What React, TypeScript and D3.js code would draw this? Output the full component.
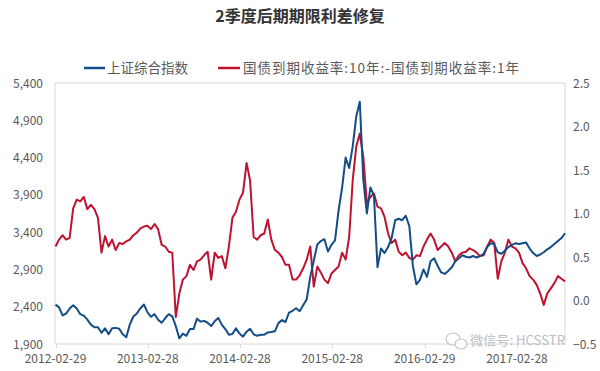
import React from "react";
import * as d3 from "d3";

const START_DATE = "2012-02-29";
const END_DATE = "2017-09-06";
const STEP_DAYS = 14;

const sseIndex = [
  2428, 2391, 2284, 2308, 2376, 2420, 2375, 2300, 2280, 2227, 2160, 2125, 2125, 2050, 2110, 2030,
  2110, 2116, 2105, 2030, 1990, 2160, 2269, 2310, 2380, 2430, 2325, 2265, 2300, 2225, 2185, 2245,
  2300, 2270, 2140, 1975, 2040, 2010, 2100, 2100, 2240, 2200, 2210, 2185, 2140, 2205, 2250, 2160,
  2100, 2025, 2035, 2110, 2040, 1998, 2065, 2105, 2030, 2010, 2025, 2025, 2055, 2060, 2070, 2180,
  2220, 2195, 2320, 2345, 2380, 2340, 2420, 2500, 2800, 3020, 3235, 3280, 3305, 3140, 3230, 3290,
  3690, 3995, 4400, 4260, 4550, 4950, 5150, 4100, 3650, 4000, 3890, 2930, 3180, 3120, 3200, 3320,
  3560, 3580, 3560, 3620, 3480, 2950, 2700, 2760, 2900, 2800, 3010, 3050, 2950, 2860, 2840, 2880,
  2930, 3010, 3050, 3090, 3070, 3060, 3080, 3060, 3080, 3110, 3200, 3250, 3240, 3130, 3110, 3150,
  3200, 3230, 3250, 3240, 3250, 3260, 3180, 3120, 3080, 3100, 3130, 3170, 3200, 3240, 3280, 3320,
  3385,
];

const termSpread = [
  0.62, 0.7, 0.75, 0.7, 0.72, 1.06, 1.16, 1.14, 1.19, 1.05, 1.1, 1.05, 0.95, 0.55, 0.74, 0.62,
  0.7, 0.58, 0.66, 0.65, 0.68, 0.7, 0.75, 0.78, 0.83, 0.85, 0.86, 0.82, 0.88, 0.82, 0.64, 0.62,
  0.56, 0.55, -0.19, 0.08, 0.24, 0.28, 0.41, 0.35, 0.45, 0.47, 0.52, 0.56, 0.24, 0.55, 0.49, 0.51,
  0.37, 0.62, 0.95, 1.02, 1.16, 1.24, 1.58, 1.38, 0.73, 0.7, 0.75, 0.77, 0.93, 0.7, 0.58, 0.55,
  0.5, 0.41, 0.41, 0.24, 0.24, 0.29, 0.37, 0.47, 0.62, 0.16, 0.39, 0.32, 0.24, 0.2, 0.31, 0.35,
  0.39, 0.55, 0.47, 0.73, 1.38, 1.77, 1.92, 1.65, 1.12, 1.19, 1.23, 1.08, 1.06, 0.96, 0.77, 0.66,
  0.7, 0.56, 0.52, 0.55, 0.49, 0.47, 0.52, 0.51, 0.62, 0.7, 0.77, 0.7, 0.58, 0.62, 0.66, 0.62,
  0.55, 0.45, 0.52, 0.55, 0.56, 0.6, 0.58, 0.55, 0.51, 0.52, 0.62, 0.7, 0.66, 0.25, 0.45, 0.55,
  0.7, 0.62, 0.6, 0.55, 0.43, 0.37, 0.28, 0.24, 0.18, 0.08, -0.05, 0.08, 0.14, 0.2, 0.28, 0.25,
  0.22,
];

const xTickLabels = ["2012-02-29", "2013-02-28", "2014-02-28", "2015-02-28", "2016-02-29", "2017-02-28"];
const leftTicks = [1900, 2400, 2900, 3400, 3900, 4400, 4900, 5400];
const rightTicks = [-0.5, 0, 0.5, 1, 1.5, 2, 2.5];

const TITLE = "2季度后期期限利差修复";
const LEGEND_BLUE = "上证综合指数";
const LEGEND_RED = "国债到期收益率:10年:-国债到期收益率:1年";
const WATERMARK = "微信号: HCSSTR";

const BLUE = "#134D85";
const RED = "#BE1230";
const FONT = "'Noto Sans CJK SC', 'Noto Sans', sans-serif";

export default function App() {
  const W = 600;
  const H = 371;
  const left = 55.5;
  const right = 565;
  const top = 83;
  const bottom = 344;

  const parse = d3.utcParse("%Y-%m-%d");
  const start = parse(START_DATE) as Date;
  const end = parse(END_DATE) as Date;
  const dates = sseIndex.map((_, i) => d3.utcDay.offset(start, i * STEP_DAYS));

  const x = d3.scaleUtc().domain([start, end]).range([left, right]);
  const yL = d3.scaleLinear().domain([1900, 5400]).range([bottom, top]);
  const yR = d3.scaleLinear().domain([-0.5, 2.5]).range([bottom, top]);

  const lineBlue = d3
    .line<number>()
    .x((_, i) => x(dates[i]))
    .y((d) => yL(d));
  const lineRed = d3
    .line<number>()
    .x((_, i) => x(dates[i]))
    .y((d) => yR(d));

  const fmtL = d3.format(",");
  const fmtR = d3.format(".1f");

  return (
    <svg
      width={W}
      height={H}
      style={{ position: "absolute", left: 0, top: 0, background: "#fff" }}
      fontFamily={FONT}
    >
      <rect x={0} y={0} width={W} height={H} fill="#fff" />
      <text x={300} y={22} textAnchor="middle" fontSize={16} fontWeight="bold" fill="#333">
        {TITLE}
      </text>

      {/* legend */}
      <line x1={84} x2={105} y1={68} y2={68} stroke={BLUE} strokeWidth={2.5} />
      <text x={107} y={73} fontSize={13.5} fill="#595959">
        {LEGEND_BLUE}
      </text>
      <line x1={218} x2={240} y1={68} y2={68} stroke={RED} strokeWidth={2.5} />
      <text x={243} y={73} fontSize={13.5} fill="#595959" textLength={276} lengthAdjust="spacing">
        {LEGEND_RED}
      </text>

      {/* plot frame */}
      <rect x={55} y={top} width={right - 55} height={bottom - top} fill="none" stroke="#d9d9d9" strokeWidth={1} />
      {xTickLabels.map((t) => {
        const xx = Math.round(x(parse(t) as Date)) + 0.5;
        return <line key={t} x1={xx} x2={xx} y1={bottom} y2={bottom + 4} stroke="#d9d9d9" />;
      })}

      {/* axes labels */}
      {leftTicks.map((v) => (
        <text key={v} x={43} y={yL(v) + 4.5} textAnchor="end" fontSize={12} fill="#595959">
          {fmtL(v)}
        </text>
      ))}
      {rightTicks.map((v) => (
        <text key={v} x={573} y={yR(v) + 4.5} textAnchor="start" fontSize={12} fill="#595959">
          {fmtR(v)}
        </text>
      ))}
      {xTickLabels.map((t) => (
        <text key={t} x={x(parse(t) as Date)} y={363} textAnchor="middle" fontSize={12} fill="#595959">
          {t}
        </text>
      ))}

      {/* series */}
      <path d={lineRed(termSpread) || ""} fill="none" stroke={RED} strokeWidth={2} strokeLinejoin="round" />
      <path d={lineBlue(sseIndex) || ""} fill="none" stroke={BLUE} strokeWidth={2} strokeLinejoin="round" />

      {/* watermark */}
      <g opacity={0.75} stroke="#b5b5b5" fill="#fff" strokeWidth={1.2}>
        <ellipse cx={453} cy={339} rx={7} ry={6} />
        <ellipse cx={461} cy={344} rx={6} ry={5} />
      </g>
      <text x={470} y={345} fontSize={13} fill="#b8b8b8" opacity={0.9} textLength={95} lengthAdjust="spacingAndGlyphs">
        {WATERMARK}
      </text>
    </svg>
  );
}
